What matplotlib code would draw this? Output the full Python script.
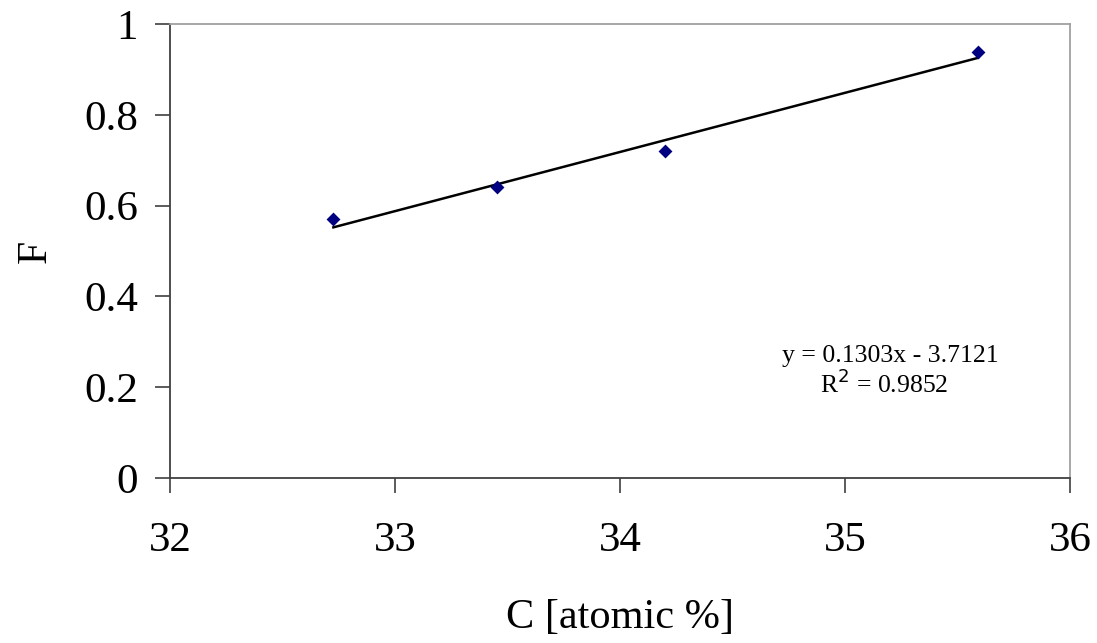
import matplotlib
matplotlib.use("Agg")
import matplotlib.pyplot as plt
import numpy as np

plt.rcParams['font.family'] = ['Liberation Serif', 'DejaVu Serif']

# Data
c_values = [32.726, 33.452, 34.20, 35.59]
f_values = [0.571, 0.640, 0.720, 0.939]
slope = 0.1303
intercept = -3.7121
x_ticks = [32, 33, 34, 35, 36]
y_ticks = [0, 0.2, 0.4, 0.6, 0.8, 1]
y_tick_labels = ['0', '0.2', '0.4', '0.6', '0.8', '1']

fig = plt.figure(figsize=(10.97, 6.43), dpi=100)
ax = fig.add_axes([170/1097, 1 - 478/643, 900/1097, 454/643])

xfit = np.array([min(c_values), max(c_values)])
ax.plot(xfit, slope * xfit + intercept, color='black', lw=1.8, zorder=2)
ax.scatter(c_values, f_values, marker='D', s=50, color='#000080', zorder=3, linewidths=0)

ax.set_xlim(32, 36)
ax.set_ylim(0, 1)
ax.set_xticks(x_ticks)
ax.set_yticks(y_ticks)
ax.set_yticklabels(y_tick_labels)
ax.tick_params(axis='both', direction='out', length=11, width=1.2, colors='#404040',
               labelsize=31, labelcolor='black')
ax.tick_params(axis='x', pad=20)
ax.tick_params(axis='y', pad=12)

for s in ['left', 'bottom']:
    ax.spines[s].set_color('#404040')
    ax.spines[s].set_linewidth(1.3)
for s in ['top', 'right']:
    ax.spines[s].set_color('#a0a0a0')
    ax.spines[s].set_linewidth(1.3)

ax.set_xlabel('C [atomic %]', fontsize=30.5, labelpad=28)
ax.set_ylabel('F', fontsize=30)
ax.yaxis.set_label_coords(-0.128, 0.5)

ax.annotate('y = 0.1303x - 3.7121', xy=(0.800, 0.269), xycoords='axes fraction',
            ha='center', va='center', fontsize=18.5)
ax.annotate('R$^2$ = 0.9852', xy=(0.794, 0.207), xycoords='axes fraction',
            ha='center', va='center', fontsize=18.5)

fig.savefig('out.png', dpi=100)
